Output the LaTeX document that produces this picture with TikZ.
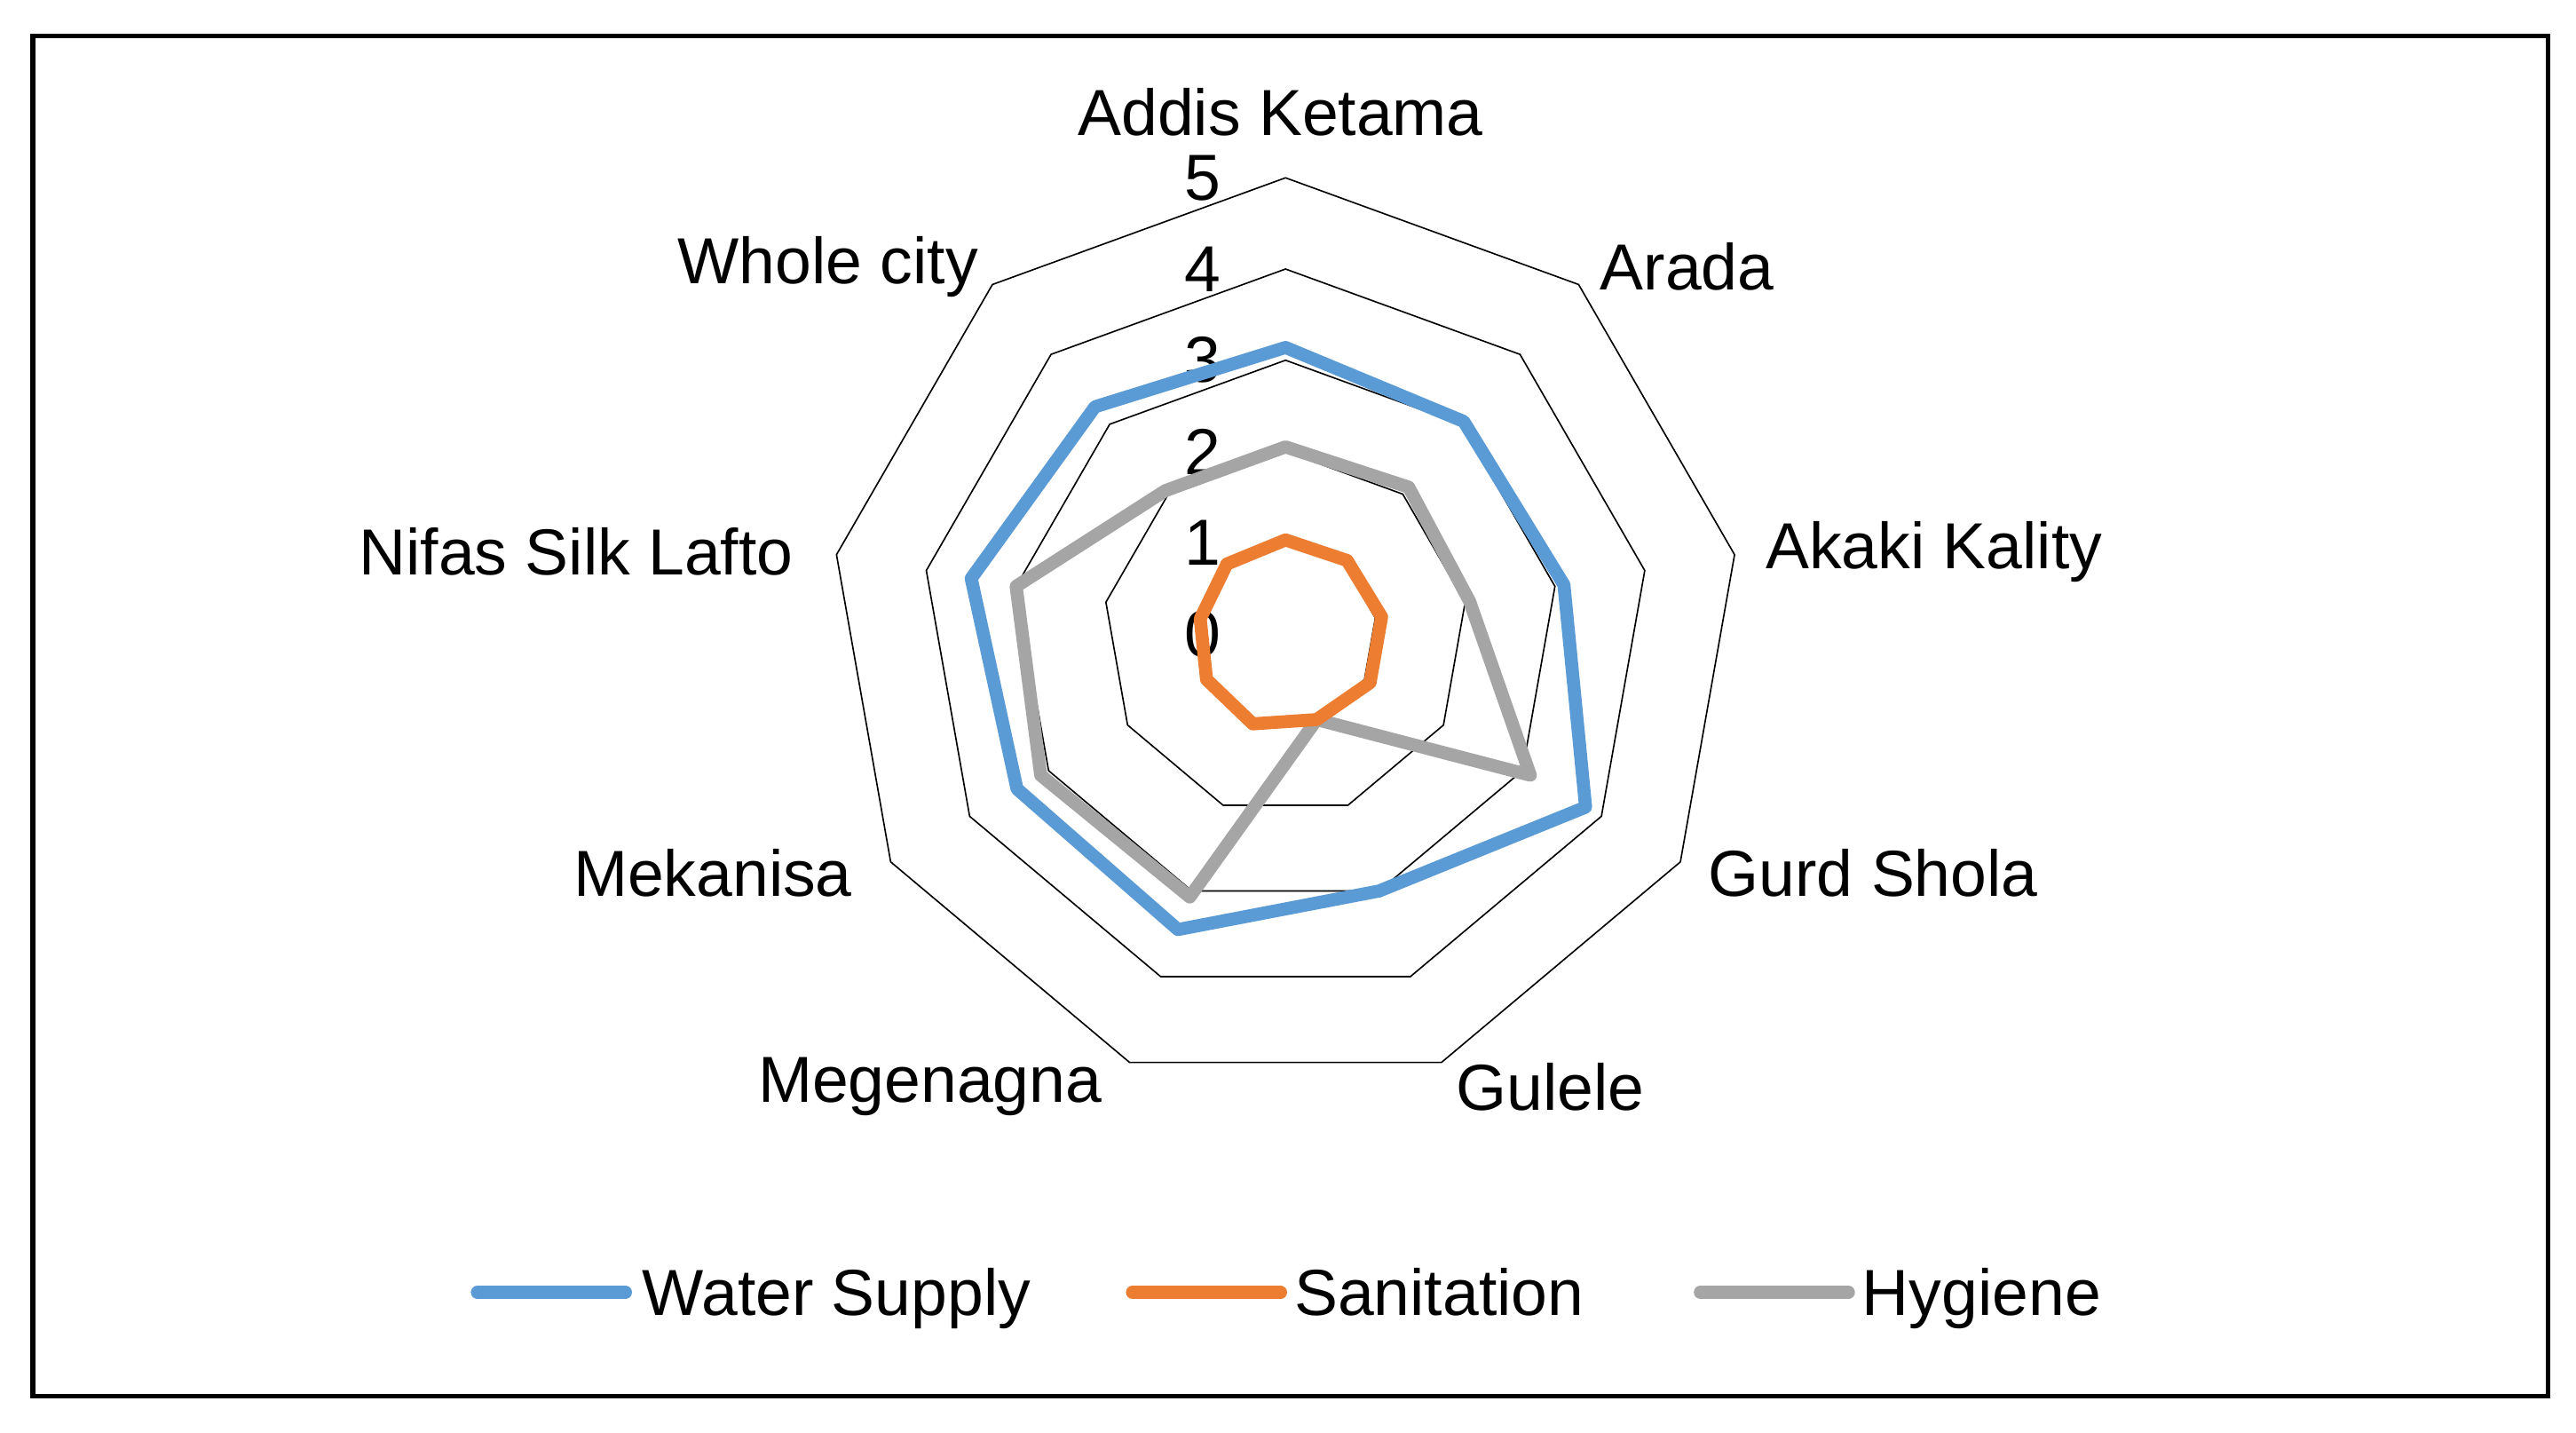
\documentclass[tikz,border=0pt]{standalone}
\usepackage{fontspec}
\setmainfont{Liberation Sans}
\usetikzlibrary{positioning}
\definecolor{water}{HTML}{5B9BD5}
\definecolor{sanit}{HTML}{ED7D31}
\definecolor{hyg}{HTML}{A5A5A5}
\newcommand{\unitr}{1.108}
\begin{document}
\begin{tikzpicture}[font=\fontsize{22.5}{26}\selectfont,
	grid/.style={black, line width=0.5pt},
	series/.style={line width=4.5pt, line join=round},
	axislabel/.style={inner sep=2pt},
	legtext/.style={anchor=base west, inner sep=0pt}]
	\useasboundingbox (-15.62,-9.7) rectangle (15.68,7.7);
	\draw[line width=1.6pt] (-15.22,-9.26) rectangle (15.34,7.26);
	% web
	\foreach \l in {1,...,5}{
		\draw[grid] (90:\l*\unitr) \foreach \i in {1,...,8}{ -- ({90-40*\i}:\l*\unitr)} -- cycle;
		\node[anchor=east, inner sep=0pt] (tick\l) at (-0.78,\l*\unitr) {\l};
	}
	\node[anchor=east, inner sep=0pt] (tick0) at (-0.78,0) {0};
	% axis labels
	\node[axislabel] (addis) at (-0.06,6.34) {Addis Ketama};
	\node[axislabel] (arada) at (4.88,4.46) {Arada};
	\node[axislabel] (akaki) at (7.88,1.0) {Akaki Kality};
	\node[axislabel] (gurd) at (7.14,-2.9) {Gurd Shola};
	\node[axislabel] (gulele) at (3.22,-5.5) {Gulele};
	\node[axislabel] (megen) at (-4.32,-5.5) {Megenagna};
	\node[axislabel] (mekan) at (-6.96,-2.9) {Mekanisa};
	\node[axislabel] (nifas) at (-8.62,1.0) {Nifas Silk Lafto};
	\node[axislabel] (whole) at (-5.56,4.46) {Whole city};
	% series
	\draw[series, hyg] \foreach[count=\i from 0] \v in {2.05,2.1,2.05,3.1,1.0,3.07,3.1,3.0,2.05}{
		\ifnum\i=0 ({90-40*\i}:\v*\unitr) \else -- ({90-40*\i}:\v*\unitr) \fi} -- cycle;
	\draw[series, sanit] \foreach[count=\i from 0] \v in {1.03,1.05,1.07,1.07,1.0,1.05,1.0,0.95,1.0}{
		\ifnum\i=0 ({90-40*\i}:\v*\unitr) \else -- ({90-40*\i}:\v*\unitr) \fi} -- cycle;
	\draw[series, water] \foreach[count=\i from 0] \v in {3.14,3.04,3.1,3.8,3.0,3.45,3.4,3.5,3.25}{
		\ifnum\i=0 ({90-40*\i}:\v*\unitr) \else -- ({90-40*\i}:\v*\unitr) \fi} -- cycle;
	% legend
	\coordinate (lw) at (-9.82,-8.0);
	\node[legtext] (lwtext) at (-7.82,-8.28) {Water Supply};
	\draw[series, water, line cap=round] (lw) -- ++(1.8,0);
	\coordinate (ls) at (-1.86,-8.0);
	\node[legtext] (lstext) at (0.1,-8.28) {Sanitation};
	\draw[series, sanit, line cap=round] (ls) -- ++(1.8,0);
	\coordinate (lh) at (5.04,-8.0);
	\node[legtext] (lhtext) at (7.0,-8.28) {Hygiene};
	\draw[series, hyg, line cap=round] (lh) -- ++(1.8,0);
\end{tikzpicture}
\end{document}
